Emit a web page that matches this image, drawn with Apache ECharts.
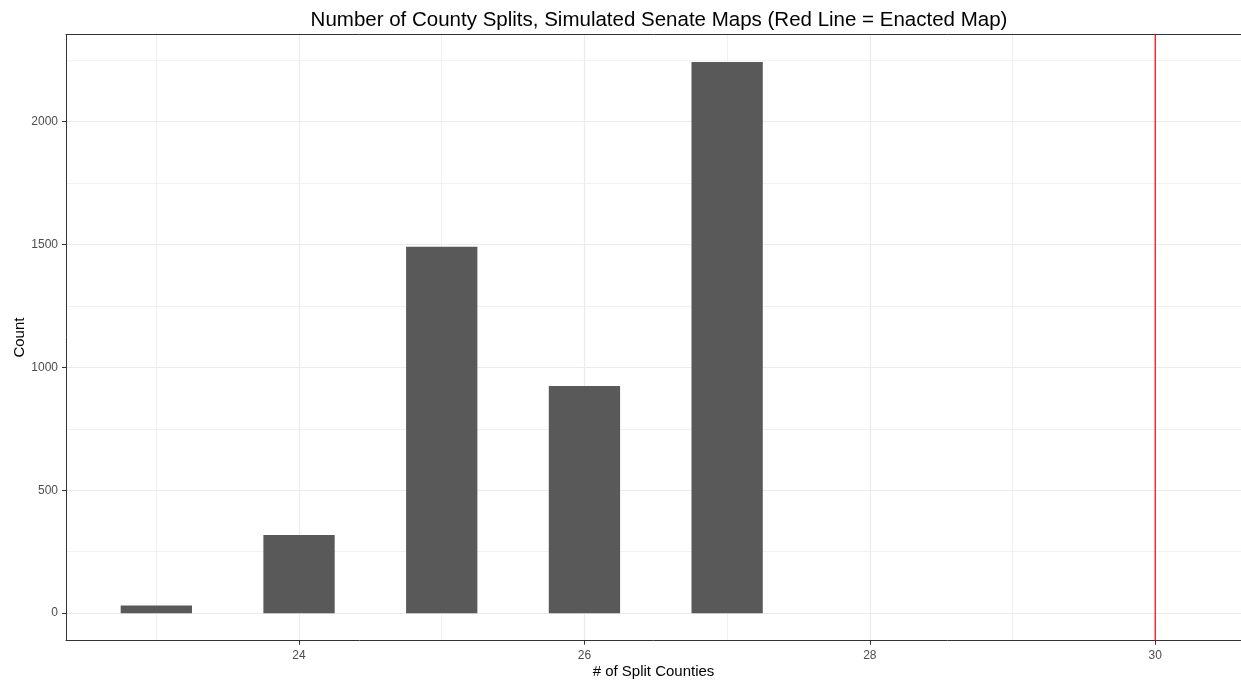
<!DOCTYPE html>
<html><head><meta charset="utf-8">
<script src="https://cdn.jsdelivr.net/npm/echarts@6/dist/echarts.min.js"></script>
<style>html,body{margin:0;padding:0;background:#fff}#c{width:1241px;height:680px}</style>
</head><body><div id="c"></div>
<script>
const splits = [23, 24, 25, 26, 27];
const counts = [31, 318, 1491, 925, 2243];
const enacted = 30;
const xTicks = [24, 26, 28, 30];
const xMinor = [23, 25, 27, 29];
const yTicks = [0, 500, 1000, 1500, 2000];
const yMinor = [250, 750, 1250, 1750, 2250];
const yMin = -112, yMax = 2355;

const chart = echarts.init(document.getElementById('c'), null, {renderer: 'canvas'});
const gridLine = (axis, vals, w) => vals.map(v => ({[axis]: v, lineStyle: {color: '#ebebeb', width: w, type: 'solid'}}));
const font = 'Liberation Sans, Arial, sans-serif';
chart.setOption({
  animation: false,
  title: {text: 'Number of County Splits, Simulated Senate Maps (Red Line = Enacted Map)', left: 654, top: 5, textAlign: 'center',
    textStyle: {fontFamily: font, fontSize: 20.5, fontWeight: 'normal', color: '#000'}},
  grid: {left: 66, right: 0, top: 34.5, bottom: 39.3, containLabel: false, outerBoundsMode: 'none', show: false},
  xAxis: [{
    type: 'value', min: 22.367, max: 30.601,
    name: '# of Split Counties', nameLocation: 'middle', nameGap: 24, nameMoveOverlap: false,
    nameTextStyle: {fontFamily: font, fontSize: 15, color: '#000'},
    axisLine: {show: true, onZero: false, lineStyle: {color: '#333', width: 1}},
    axisTick: {show: true, length: 4, customValues: xTicks, lineStyle: {color: '#333'}},
    axisLabel: {customValues: xTicks, margin: 9, fontFamily: font, fontSize: 12, color: '#4d4d4d'},
    splitLine: {show: false}
  }, {
    type: 'value', position: 'top', min: 22.367, max: 30.601,
    axisLine: {show: true, onZero: false, lineStyle: {color: '#333', width: 1}},
    axisTick: {show: false}, axisLabel: {show: false}, splitLine: {show: false}
  }],
  yAxis: {
    type: 'value', min: yMin, max: yMax,
    name: 'Count', nameLocation: 'middle', nameGap: 39, nameMoveOverlap: false,
    nameTextStyle: {fontFamily: font, fontSize: 15, color: '#000'},
    axisLine: {show: true, onZero: false, lineStyle: {color: '#333', width: 1}},
    axisTick: {show: true, length: 4, customValues: yTicks, lineStyle: {color: '#333'}},
    axisLabel: {customValues: yTicks, margin: 8, fontFamily: font, fontSize: 12, color: '#4d4d4d', formatter: v => String(v)},
    splitLine: {show: false}
  },
  series: [{
    type: 'line', data: [], silent: true, zlevel: 0, z: 0,
    markLine: {silent: true, symbol: 'none', label: {show: false}, animation: false, z: 0,
      data: [].concat(gridLine('xAxis', xMinor, 0.7), gridLine('yAxis', yMinor, 0.7),
                      gridLine('xAxis', xTicks, 1.2), gridLine('yAxis', yTicks, 1.2))}
  }, {
    type: 'bar', barWidth: 71.3, zlevel: 1, z: 2,
    data: splits.map((s, i) => [s, counts[i]]),
    itemStyle: {color: '#595959'}
  }, {
    type: 'line', zlevel: 1, z: 5, silent: true, symbol: 'none',
    data: [[enacted, yMin], [enacted, yMax]],
    lineStyle: {color: '#ff0000', width: 1.2},
    itemStyle: {color: '#ff0000'}
  }]
});
</script></body></html>
